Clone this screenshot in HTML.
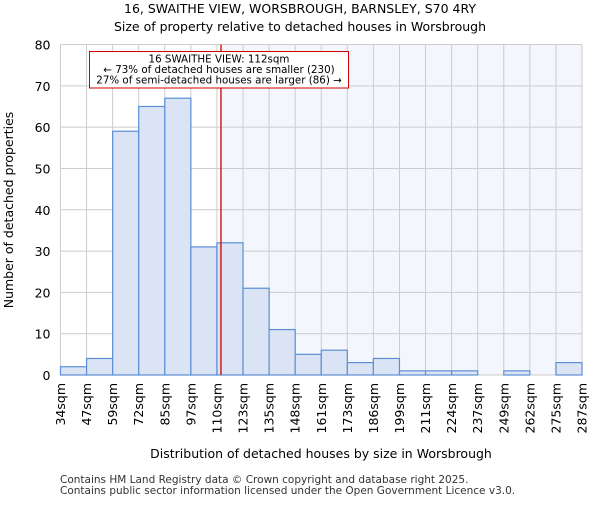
<!DOCTYPE html>
<html><head><meta charset="utf-8"><style>body{margin:0;background:#fff}svg{font-family:"DejaVu Sans","Liberation Sans",sans-serif}</style></head>
<body>
<svg id="c" width="600" height="500" viewBox="0 0 600 500" xmlns="http://www.w3.org/2000/svg">
<text x="300" y="13" text-anchor="middle" font-size="12.5">16, SWAITHE VIEW, WORSBROUGH, BARNSLEY, S70 4RY</text>
<text x="300" y="31" text-anchor="middle" font-size="12.5">Size of property relative to detached houses in Worsbrough</text>
<g id="plot"></g>
<text x="321" y="458" text-anchor="middle" font-size="12.5">Distribution of detached houses by size in Worsbrough</text>
<text transform="translate(13,210) rotate(-90)" text-anchor="middle" font-size="12.5">Number of detached properties</text>
<text x="60" y="483" font-size="10.5" fill="#333">Contains HM Land Registry data © Crown copyright and database right 2025.</text>
<text x="60" y="494" font-size="10.5" fill="#333">Contains public sector information licensed under the Open Government Licence v3.0.</text>
</svg>
<script>
const binLabels=["34sqm","47sqm","59sqm","72sqm","85sqm","97sqm","110sqm","123sqm","135sqm","148sqm","161sqm","173sqm","186sqm","199sqm","211sqm","224sqm","237sqm","249sqm","262sqm","275sqm","287sqm"];
const binEdges=[34,47,59,72,85,97,110,123,135,148,161,173,186,199,211,224,237,249,262,275,287];
const counts=[2,4,59,65,67,31,32,21,11,5,6,3,4,1,1,1,0,1,0,3];
const yTicks=[0,10,20,30,40,50,60,70,80];
const subjectSize=112;
const annotationLines=["16 SWAITHE VIEW: 112sqm","← 73% of detached houses are smaller (230)","27% of semi-detached houses are larger (86) →"];
const L=60.5,R=582,T=44.5,B=375,yMax=80;
const n=counts.length;
const xi=i=>L+(R-L)*i/n;
const xv=v=>{let i=0;while(i<n-1&&v>binEdges[i+1])i++;return xi(i)+(v-binEdges[i])/(binEdges[i+1]-binEdges[i])*(xi(i+1)-xi(i));};
const y=v=>B-(B-T)*v/yMax;
const g=document.getElementById('plot');const NS="http://www.w3.org/2000/svg";
function mk(t,a,p){const e=document.createElementNS(NS,t);for(const k in a)e.setAttribute(k,a[k]);(p||g).appendChild(e);return e;}
const sx=xv(subjectSize);
let e=mk('rect',{x:sx,y:T,width:R-sx,height:B-T,fill:'#f3f6fd'});


for(let i=0;i<=n;i++){e=mk('line',{x1:xi(i),x2:xi(i),y1:T,y2:B,stroke:'#ccc','stroke-width':1});

}
yTicks.forEach(t=>{e=mk('line',{x1:L,x2:R,y1:y(t),y2:y(t),stroke:'#ccc','stroke-width':1});


e=mk('text',{x:L-10,y:y(t)+5,'text-anchor':'end','font-size':12.5});e.textContent=t;

});
counts.forEach((c,i)=>{if(c<=0)return;e=mk('rect',{x:xi(i),y:y(c),width:xi(i+1)-xi(i),height:B-y(c),fill:'#dae4f5',stroke:'#5b8fd6','stroke-width':1.2});

});
binLabels.forEach((l,i)=>{e=mk('text',{transform:`translate(${xi(i)+4.5},${B+8}) rotate(-90)`,'text-anchor':'end','font-size':12.5});e.textContent=l;

});
e=mk('line',{x1:sx,x2:sx,y1:T,y2:B,stroke:'#cc0000','stroke-width':1.3});


e=mk('rect',{x:89.5,y:51.5,width:259,height:36.5,fill:'#fff',stroke:'#cc0000','stroke-width':1});


annotationLines.forEach((t,i)=>{e=mk('text',{x:219,y:62.5+i*10.5,'text-anchor':'middle','font-size':10.3});e.textContent=t;

});
</script>
</body></html>
